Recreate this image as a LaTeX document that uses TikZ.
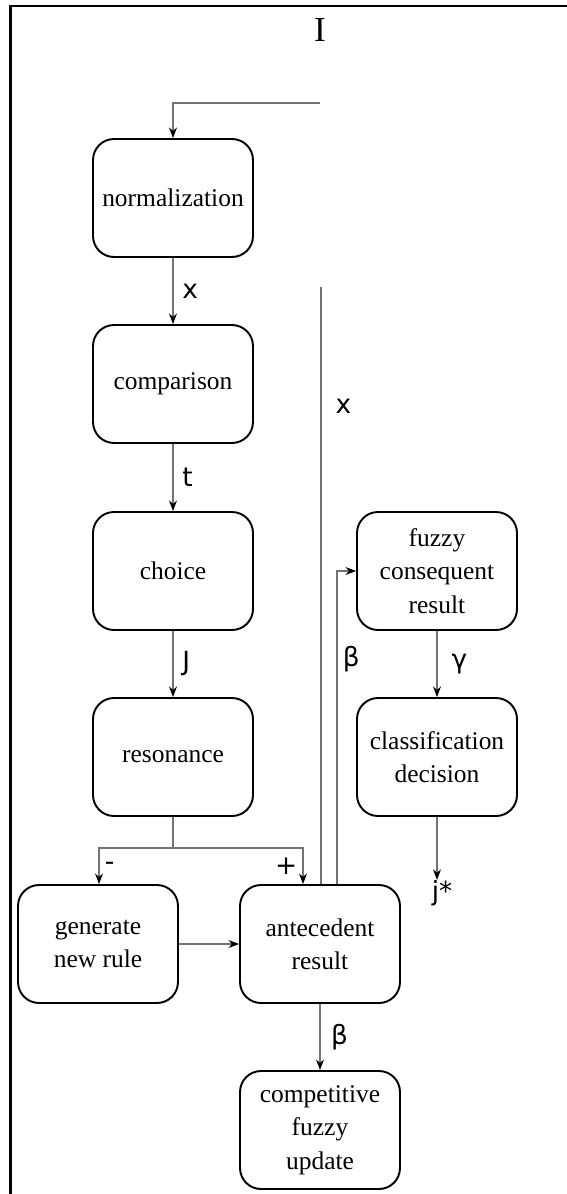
\documentclass[tikz,border=0pt]{standalone}
\usepackage{fontspec}
\setmainfont{Liberation Serif}
\newfontfamily\lblfont{DejaVu Sans}
\usepackage{tikz}
\usetikzlibrary{arrows.meta,positioning}

\tikzset{
  stagebox/.style={rectangle,rounded corners=0.42cm,draw,line width=1.1pt,
    minimum width=3.2cm,minimum height=2.36cm,align=center,
    font=\fontsize{14.5}{19}\selectfont},
  lbl/.style={font=\lblfont\fontsize{15}{18}\selectfont,inner sep=0pt},
  conn/.style={draw=black!55,line width=0.6pt},
  arr/.style={conn,-{Stealth[length=6pt,width=4.5pt,black]}}
}

\begin{document}
\begin{tikzpicture}[x=0.02cm,y=-0.02cm]
            \useasboundingbox (0,0) rectangle (567,1194);
            \draw[line width=1.2pt] (10.5,1194) -- (10.5,6) -- (567,6);

            \node [font=\fontsize{20}{22}\selectfont] (I) at (320,30) {I};
            \coordinate (in) at (320,103);

            \node [stagebox] (norm) at (173,198) {normalization};
            \node [stagebox] (comp) at (173,384) {comparison};
            \node [stagebox] (choice) at (173,571) {choice};
            \node [stagebox] (reso) at (173,757) {resonance};
            \node [stagebox] (gen) at (98,944) {generate\\new rule};
            \node [stagebox] (ante) at (320,944) {antecedent\\result};
            \node [stagebox] (upd) at (320,1130) {competitive\\fuzzy\\update};
            \node [stagebox] (cons) at (437,571) {fuzzy\\consequent\\result};
            \node [stagebox] (cls) at (437,757) {classification\\decision};

            \draw[arr] (in) -| (norm);
            \draw[arr] (norm) -- (comp) node[lbl,pos=0.5,right=5pt] {x};
            \draw[arr] (comp) -- (choice) node[lbl,pos=0.5,right=5pt] {t};
            \draw[arr] (choice) -- (reso) node[lbl,pos=0.5,right=5pt] {J};

            % split after resonance
            \coordinate (split) at (173,848);
            \draw[conn] (reso) -- (split);
            \draw[arr] (split) -| (gen.north -| 99,0) node[lbl,pos=0.75,right=3pt] {-};
            \draw[arr] (split) -| ([xshift=-0.34cm]ante.north) node[lbl,pos=0.75,left=3pt] {+};
            \draw[arr] (gen) -- (ante);

            % input x straight into antecedent
            \coordinate (xin) at (321,287);
            \draw[conn] (xin) -- (ante.north -| xin) node[lbl,pos=0.2,right=8pt] {x};

            % beta up to consequent
            \draw[arr] ([xshift=0.34cm]ante.north) |- (cons.west) node[lbl,pos=0.36,right=3pt] {β};
            \draw[arr] (cons) -- (cls) node[lbl,pos=0.5,right=8pt] {γ};
            \node [lbl] (jstar) at (442,893) {j*};
            \draw[arr] (cls) -- (jstar.north -| cls);
            \draw[arr] (ante) -- (upd) node[lbl,pos=0.5,right=6pt] {β};
\end{tikzpicture}
\end{document}
